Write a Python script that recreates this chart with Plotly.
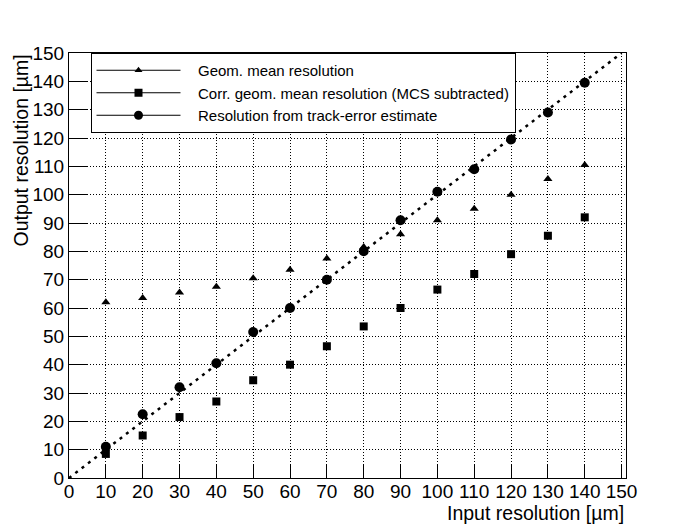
import plotly.graph_objects as go

input_res = [10, 20, 30, 40, 50, 60, 70, 80, 90, 100, 110, 120, 130, 140]
geom_mean = [62, 63.5, 65.5, 67.5, 70.5, 73.5, 77.5, 81.5, 86, 91, 95, 100, 105.5, 110.5]
corr_geom_mean = [8.5, 15, 21.5, 27, 34.5, 40, 46.5, 53.5, 60, 66.5, 72, 79, 85.5, 92]
track_err = [11, 22.5, 32, 40.5, 51.5, 60, 70, 80, 91, 101, 109, 119.5, 129, 139.5]
diag_x = [0, 150]
diag_y = [0, 150]

names = ["Geom. mean resolution",
         "Corr. geom. mean resolution (MCS subtracted)",
         "Resolution from track-error estimate"]
tick_vals = list(range(0, 151, 10))
tick_text = [str(v) for v in tick_vals]

FONT = "Liberation Sans, Arial, sans-serif"
PAD = "\u00a0\u00a0\u00a0"

fig = go.Figure()

fig.add_trace(go.Scatter(x=diag_x, y=diag_y, mode="lines",
                         line=dict(color="black", width=2.5, dash="3px,5px"),
                         showlegend=False, hoverinfo="skip"))

series = [(geom_mean, "triangle-up", 8), (corr_geom_mean, "square", 8), (track_err, "circle", 10)]
for (vals, sym, sz), nm in zip(series, names):
    fig.add_trace(go.Scatter(x=input_res, y=vals, mode="markers",
                             marker=dict(symbol=sym, size=sz, color="black",
                                         line=dict(width=0)),
                             showlegend=False, name=nm))

# legend entries (line + marker, like the reference legend)
legend_sizes = [7, 8, 9]
for (vals, sym, sz), nm, lsz in zip(series, names, legend_sizes):
    fig.add_trace(go.Scatter(x=[None], y=[None], mode="lines+markers",
                             marker=dict(symbol=sym, size=lsz, color="black"),
                             line=dict(color="black", width=1),
                             name=PAD + nm, showlegend=True))

axis_common = dict(
    showline=True, mirror=True, linecolor="black", linewidth=1,
    showgrid=True, gridcolor="black", gridwidth=1, griddash="1px,2px",
    zeroline=False, ticks="inside", tickcolor="black", tickwidth=1,
    tickmode="array", tickvals=tick_vals, ticktext=tick_text,
    tickfont=dict(family=FONT, size=19, color="black"),
)

fig.update_xaxes(range=[0, 151.2], ticklen=13, ticklabelstandoff=-4, **axis_common)
fig.update_yaxes(range=[0, 150], ticklen=19, **axis_common)

fig.update_layout(
    width=688, height=524,
    margin=dict(l=60.5, r=70, t=45.3, b=53.7, pad=0),
    paper_bgcolor="white", plot_bgcolor="white",
    font=dict(family=FONT, color="black"),
    legend=dict(x=0.0386, y=1, xanchor="left", yanchor="top",
                bgcolor="white", bordercolor="black", borderwidth=1,
                font=dict(family=FONT, size=15, color="black"),
                itemwidth=84, entrywidth=345, tracegroupgap=0),
    annotations=[
        dict(text="Input resolution [µm]", xref="paper", yref="paper",
             x=1, y=0, yshift=-22, xanchor="right", yanchor="top",
             showarrow=False, font=dict(family=FONT, size=19.5, color="black")),
        dict(text="Output resolution [µm]", xref="paper", yref="paper",
             x=0, y=1, xshift=-48.5, xanchor="center", yanchor="top", textangle=-90,
             showarrow=False, font=dict(family=FONT, size=19.5, color="black")),
    ],
)

fig.write_html("out.html")
